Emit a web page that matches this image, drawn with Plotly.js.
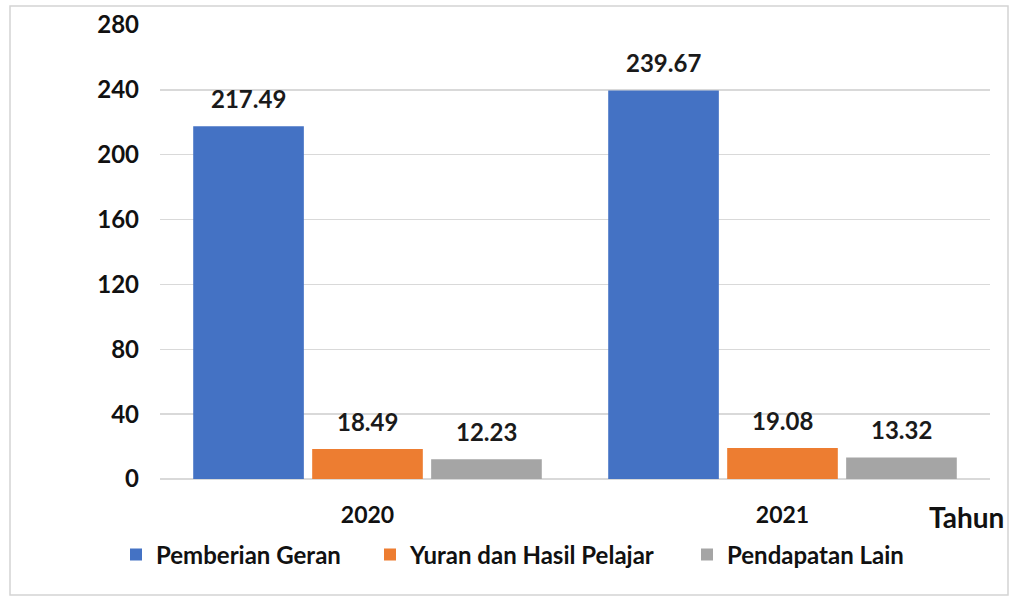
<!DOCTYPE html>
<html>
<head>
<meta charset="utf-8">
<script src="https://cdn.plot.ly/plotly-3.0.1.min.js"></script>
<style>
  html, body { margin: 0; padding: 0; background: #ffffff; }
  #chart { width: 1014px; height: 598px; }
</style>
</head>
<body>
<div id="chart"></div>
<script>
// Sumber pendapatan mengikut tahun (RM juta)
const years = ['2020', '2021'];
const seriesNames = ['Pemberian Geran', 'Yuran dan Hasil Pelajar', 'Pendapatan Lain'];
const geran = [217.49, 239.67];
const yuran = [18.49, 19.08];
const lain = [12.23, 13.32];
const yTicks = [0, 40, 80, 120, 160, 200, 240, 280];

const colors = ['#4472C4', '#ED7D31', '#A5A5A5'];
const seriesValues = [geran, yuran, lain];

const FONT = 'Lato, "Open Sans", sans-serif';
const W = 1014, H = 598;
const margin = { l: 160, r: 24, t: 25, b: 119 };
const bargap = 0.14;

// One legend per series so each key can be spaced on its own
const legendIds = ['legend', 'legend2', 'legend3'];
const legendLeft = [116, 370, 687];

const traces = seriesValues.map((vals, i) => ({
  type: 'bar',
  name: seriesNames[i],
  x: years,
  y: vals,
  marker: { color: colors[i] },
  legend: legendIds[i],
  hoverinfo: 'x+y+name'
}));

// Value labels sit a little above each bar, shifted to the bar's slot in its group
const plotW = W - margin.l - margin.r;
const slot = plotW / years.length * (1 - bargap) / seriesValues.length;
const annotations = [];
seriesValues.forEach((vals, i) => {
  vals.forEach((v, j) => {
    annotations.push({
      x: j, y: v, xref: 'x', yref: 'y',
      text: v.toFixed(2),
      showarrow: false,
      xanchor: 'center', yanchor: 'bottom',
      xshift: (i - 1) * slot,
      yshift: 11,
      font: { family: FONT, size: 24, color: '#1a1a1a', weight: 700 }
    });
  });
});

annotations.push({
  x: 0.972, y: -0.084, xref: 'paper', yref: 'paper',
  text: 'Tahun', showarrow: false,
  xanchor: 'center', yanchor: 'middle',
  font: { family: FONT, size: 28, color: '#111111', weight: 700 }
});

const px = v => (v - margin.l) / plotW;
const plotH = H - margin.t - margin.b;
const py = v => (H - margin.b - v) / plotH;

const layout = {
  width: W, height: H,
  margin: margin,
  paper_bgcolor: '#ffffff',
  plot_bgcolor: '#ffffff',
  barmode: 'group',
  bargap: bargap,
  bargroupgap: 0.07,
  font: { family: FONT, color: '#111111' },
  xaxis: {
    type: 'category',
    range: [-0.5, years.length - 0.5],
    autorange: false,
    showgrid: false,
    showline: false,
    zeroline: false,
    ticks: '',
    ticklabelstandoff: 20,
    tickfont: { family: FONT, size: 23, color: '#111111', weight: 700 }
  },
  yaxis: {
    range: [0, 280],
    autorange: false,
    tickvals: yTicks,
    ticktext: yTicks.map(String),
    showgrid: true,
    gridcolor: '#d9d9d9',
    gridwidth: 1.5,
    zeroline: true,
    zerolinecolor: '#d9d9d9',
    zerolinewidth: 1.5,
    showline: false,
    ticks: '',
    ticklabelstandoff: 20,
    tickfont: { family: FONT, size: 24, color: '#111111', weight: 700 }
  },
  showlegend: true,
  annotations: annotations,
  // Outer frame around the whole figure
  shapes: [{
    type: 'rect', xref: 'paper', yref: 'paper',
    x0: px(10), x1: px(1008), y0: py(595), y1: py(6),
    line: { color: '#d4d4d4', width: 1.5 },
    fillcolor: 'rgba(0,0,0,0)',
    layer: 'below'
  }]
};

legendIds.forEach((id, i) => {
  layout[id] = {
    orientation: 'h',
    x: px(legendLeft[i]), y: py(555),
    xanchor: 'left', yanchor: 'middle',
    itemclick: false,
    bgcolor: 'rgba(0,0,0,0)',
    font: { family: FONT, size: 24, color: '#111111', weight: 700 }
  };
});

Plotly.newPlot('chart', traces, layout, { displayModeBar: false, staticPlot: true });
</script>
</body>
</html>
